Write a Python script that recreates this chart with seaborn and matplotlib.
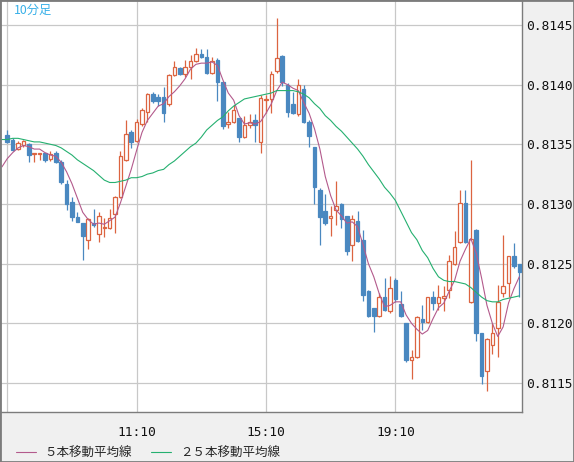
import numpy as np
import pandas as pd
import seaborn as sns
import matplotlib.pyplot as plt
from matplotlib.patches import Rectangle

# 10-minute bars, 07:10 .. 23:00
times = pd.date_range("2000-01-01 07:10", periods=96, freq="10min").strftime("%H:%M")

opens = [0.81358, 0.81354, 0.81346, 0.81349, 0.81350, 0.81342, 0.81342, 0.81343, 0.81338, 0.81343,
         0.81335, 0.81317, 0.81302, 0.81289, 0.81284, 0.81270, 0.81284, 0.81275, 0.81280, 0.81280,
         0.81292, 0.81306, 0.81337, 0.81360, 0.81353, 0.81367, 0.81377, 0.81392, 0.81390, 0.81390,
         0.81384, 0.81408, 0.81414, 0.81409, 0.81415, 0.81420, 0.81426, 0.81423, 0.81410, 0.81421,
         0.81402, 0.81367, 0.81369, 0.81372, 0.81356, 0.81366, 0.81370, 0.81352, 0.81387, 0.81388,
         0.81411, 0.81424, 0.81400, 0.81384, 0.81375, 0.81396, 0.81369, 0.81348, 0.81312, 0.81294,
         0.81288, 0.81295, 0.81300, 0.81290, 0.81266, 0.81286, 0.81270, 0.81227, 0.81213, 0.81206,
         0.81222, 0.81210, 0.81236, 0.81216, 0.81200, 0.81169, 0.81172, 0.81204, 0.81201, 0.81222,
         0.81217, 0.81221, 0.81228, 0.81250, 0.81268, 0.81301, 0.81218, 0.81278, 0.81192, 0.81160,
         0.81182, 0.81196, 0.81225, 0.81234, 0.81256, 0.81250]
highs = [0.81362, 0.81355, 0.81353, 0.81354, 0.81351, 0.81343, 0.81343, 0.81343, 0.81344, 0.81344,
         0.81337, 0.81320, 0.81306, 0.81293, 0.81284, 0.81288, 0.81296, 0.81293, 0.81288, 0.81296,
         0.81307, 0.81344, 0.81370, 0.81362, 0.81371, 0.81380, 0.81393, 0.81394, 0.81392, 0.81398,
         0.81409, 0.81420, 0.81415, 0.81421, 0.81425, 0.81431, 0.81430, 0.81430, 0.81423, 0.81422,
         0.81402, 0.81377, 0.81383, 0.81372, 0.81374, 0.81375, 0.81375, 0.81391, 0.81391, 0.81411,
         0.81456, 0.81425, 0.81401, 0.81394, 0.81405, 0.81400, 0.81370, 0.81348, 0.81313, 0.81308,
         0.81298, 0.81319, 0.81301, 0.81290, 0.81291, 0.81294, 0.81278, 0.81228, 0.81213, 0.81225,
         0.81238, 0.81240, 0.81238, 0.81227, 0.81200, 0.81178, 0.81206, 0.81215, 0.81222, 0.81227,
         0.81232, 0.81231, 0.81257, 0.81277, 0.81312, 0.81312, 0.81337, 0.81279, 0.81192, 0.81188,
         0.81200, 0.81232, 0.81274, 0.81256, 0.81267, 0.81250]
lows = [0.81351, 0.81344, 0.81345, 0.81348, 0.81335, 0.81335, 0.81337, 0.81335, 0.81336, 0.81334,
        0.81317, 0.81295, 0.81286, 0.81285, 0.81253, 0.81262, 0.81281, 0.81268, 0.81272, 0.81279,
        0.81276, 0.81305, 0.81336, 0.81347, 0.81352, 0.81365, 0.81369, 0.81385, 0.81382, 0.81369,
        0.81382, 0.81407, 0.81408, 0.81406, 0.81405, 0.81419, 0.81422, 0.81409, 0.81409, 0.81386,
        0.81363, 0.81364, 0.81368, 0.81352, 0.81355, 0.81364, 0.81352, 0.81343, 0.81376, 0.81376,
        0.81410, 0.81399, 0.81373, 0.81375, 0.81374, 0.81368, 0.81348, 0.81300, 0.81266, 0.81282,
        0.81273, 0.81282, 0.81280, 0.81257, 0.81252, 0.81268, 0.81219, 0.81205, 0.81193, 0.81205,
        0.81210, 0.81209, 0.81218, 0.81205, 0.81168, 0.81153, 0.81171, 0.81194, 0.81200, 0.81211,
        0.81211, 0.81210, 0.81221, 0.81249, 0.81267, 0.81267, 0.81217, 0.81185, 0.81149, 0.81143,
        0.81174, 0.81172, 0.81222, 0.81222, 0.81246, 0.81222]
closes = [0.81352, 0.81345, 0.81351, 0.81353, 0.81341, 0.81343, 0.81343, 0.81337, 0.81342, 0.81335,
          0.81318, 0.81300, 0.81289, 0.81285, 0.81273, 0.81287, 0.81282, 0.81290, 0.81281, 0.81288,
          0.81306, 0.81340, 0.81359, 0.81352, 0.81369, 0.81379, 0.81392, 0.81386, 0.81386, 0.81376,
          0.81408, 0.81415, 0.81409, 0.81415, 0.81420, 0.81426, 0.81423, 0.81410, 0.81420, 0.81402,
          0.81365, 0.81369, 0.81379, 0.81356, 0.81366, 0.81369, 0.81366, 0.81389, 0.81388, 0.81409,
          0.81422, 0.81402, 0.81377, 0.81376, 0.81400, 0.81369, 0.81357, 0.81314, 0.81289, 0.81284,
          0.81290, 0.81298, 0.81287, 0.81261, 0.81287, 0.81269, 0.81224, 0.81206, 0.81206, 0.81222,
          0.81211, 0.81230, 0.81220, 0.81206, 0.81169, 0.81172, 0.81205, 0.81201, 0.81222, 0.81217,
          0.81222, 0.81223, 0.81252, 0.81264, 0.81301, 0.81268, 0.81271, 0.81192, 0.81156, 0.81187,
          0.81192, 0.81218, 0.81231, 0.81256, 0.81248, 0.81243]

# moving averages as drawn (first value belongs to the bar before 07:10)
ma5 = [0.81331, 0.81338, 0.81343, 0.81347, 0.81349, 0.81348, 0.81346, 0.81346, 0.81343, 0.81341,
       0.81340, 0.81335, 0.81327, 0.81317, 0.81305, 0.81293, 0.81287, 0.81283, 0.81284, 0.81283,
       0.81286, 0.81289, 0.81301, 0.81315, 0.81329, 0.81345, 0.81360, 0.81370, 0.81376, 0.81382,
       0.81384, 0.81390, 0.81394, 0.81399, 0.81405, 0.81413, 0.81417, 0.81418, 0.81418, 0.81419,
       0.81416, 0.81404, 0.81393, 0.81387, 0.81374, 0.81367, 0.81368, 0.81367, 0.81369, 0.81376,
       0.81384, 0.81395, 0.81402, 0.81400, 0.81397, 0.81395, 0.81385, 0.81376, 0.81363, 0.81346,
       0.81323, 0.81307, 0.81295, 0.81290, 0.81284, 0.81285, 0.81281, 0.81266, 0.81250, 0.81239,
       0.81225, 0.81214, 0.81215, 0.81218, 0.81218, 0.81207, 0.81200, 0.81195, 0.81191, 0.81194,
       0.81204, 0.81213, 0.81217, 0.81227, 0.81236, 0.81252, 0.81262, 0.81271, 0.81259, 0.81238,
       0.81215, 0.81200, 0.81189, 0.81197, 0.81217, 0.81229, 0.81239]
ma25 = [0.81354, 0.81354, 0.81355, 0.81355, 0.81354, 0.81353, 0.81352, 0.81352, 0.81351, 0.81350,
        0.81349, 0.81347, 0.81344, 0.81341, 0.81337, 0.81334, 0.81331, 0.81328, 0.81324, 0.81320,
        0.81318, 0.81318, 0.81319, 0.81320, 0.81322, 0.81322, 0.81323, 0.81325, 0.81326, 0.81328,
        0.81329, 0.81333, 0.81336, 0.81340, 0.81344, 0.81348, 0.81351, 0.81356, 0.81362, 0.81366,
        0.81370, 0.81373, 0.81378, 0.81382, 0.81385, 0.81388, 0.81389, 0.81390, 0.81391, 0.81392,
        0.81393, 0.81395, 0.81395, 0.81395, 0.81395, 0.81394, 0.81392, 0.81389, 0.81384, 0.81380,
        0.81374, 0.81370, 0.81365, 0.81361, 0.81356, 0.81351, 0.81346, 0.81340, 0.81333, 0.81327,
        0.81321, 0.81314, 0.81309, 0.81303, 0.81294, 0.81285, 0.81276, 0.81270, 0.81261, 0.81255,
        0.81246, 0.81239, 0.81236, 0.81235, 0.81235, 0.81234, 0.81233, 0.81230, 0.81226, 0.81222,
        0.81219, 0.81218, 0.81218, 0.81220, 0.81221, 0.81222, 0.81223]

tick_labels = ["11:10", "15:10", "19:10"]
ma_labels = ["５本移動平均線", "２５本移動平均線"]

up_color = "#dc6440"
down_color = "#4a88c0"
ma_colors = ["#b35a8c", "#25b070"]
frame_color = "#7c7c7c"

sns.set_theme(style="white")
plt.rcParams["font.family"] = ["Noto Sans CJK JP", "DejaVu Sans"]

fig = plt.figure(figsize=(5.74, 4.62), dpi=100, facecolor="#f0f0f0")
ax = fig.add_axes([0.0, 50 / 462, 522 / 574, 412 / 462])
ax.set_facecolor("white")

x = np.arange(len(times))
o = np.array(opens)
c = np.array(closes)
up = c >= o

# wicks
ax.vlines(x[up], np.array(lows)[up], np.array(highs)[up], color=up_color, lw=0.9, zorder=2)
ax.vlines(x[~up], np.array(lows)[~up], np.array(highs)[~up], color=down_color, lw=0.9, zorder=2)
# bodies
ax.bar(x[up], (c - o)[up], bottom=o[up], width=0.66, facecolor="white",
       edgecolor=up_color, linewidth=0.9, zorder=3)
ax.bar(x[~up], (c - o)[~up], bottom=o[~up], width=0.66, facecolor=down_color,
       edgecolor=down_color, linewidth=0.9, zorder=3)

# moving averages
ma_x = np.arange(-1, len(times))
ma_df = pd.DataFrame({
    "idx": np.concatenate([ma_x, ma_x]),
    "value": ma5 + ma25,
    "series": [ma_labels[0]] * len(ma_x) + [ma_labels[1]] * len(ma_x),
})
sns.lineplot(data=ma_df, x="idx", y="value", hue="series", hue_order=ma_labels,
             palette=ma_colors, linewidth=0.8, ax=ax, zorder=4)
handles, labels = ax.get_legend_handles_labels()
ax.get_legend().remove()

ax.set_xlim(-1.35, 95.5)
ax.set_ylim(0.811257, 0.814709)

# grid
yt = [0.8115, 0.8120, 0.8125, 0.8130, 0.8135, 0.8140, 0.8145]
ax.set_yticks(yt)
ax.set_yticklabels([f"{v:.4f}" for v in yt])
grid_pos = [list(times).index(t) for t in ["07:10"] + tick_labels]
ax.set_xticks(grid_pos)
ax.set_xticklabels([""] + tick_labels)
ax.grid(True, color="#c8c8c8", lw=0.9, zorder=0)
ax.set_axisbelow(True)
ax.set_xlabel("")
ax.set_ylabel("")

ax.yaxis.tick_right()
ax.tick_params(axis="both", length=0, labelsize=9.3, labelcolor="#111111")
ax.tick_params(axis="y", pad=3)
ax.tick_params(axis="x", pad=10)
for lab in ax.get_xticklabels() + ax.get_yticklabels():
    lab.set_fontfamily("DejaVu Sans Mono")

for s in ax.spines.values():
    s.set_color(frame_color)
    s.set_linewidth(1.0)

ax.text(14 / 522, 1 - 10 / 412, "10分足", transform=ax.transAxes, ha="left", va="center",
        fontsize=8.8, color="#38b0e8")

fig.legend(handles, labels, loc="center left", bbox_to_anchor=(16 / 574, 9 / 462),
           bbox_transform=fig.transFigure, ncol=2, frameon=False, fontsize=9,
           handlelength=1.6, handletextpad=0.7, columnspacing=1.5,
           borderpad=0, borderaxespad=0)

fig.add_artist(Rectangle((0, 0), 1, 1, transform=fig.transFigure, fill=False,
                         edgecolor=frame_color, linewidth=2))

fig.savefig("out.png", dpi=100, facecolor=fig.get_facecolor())
